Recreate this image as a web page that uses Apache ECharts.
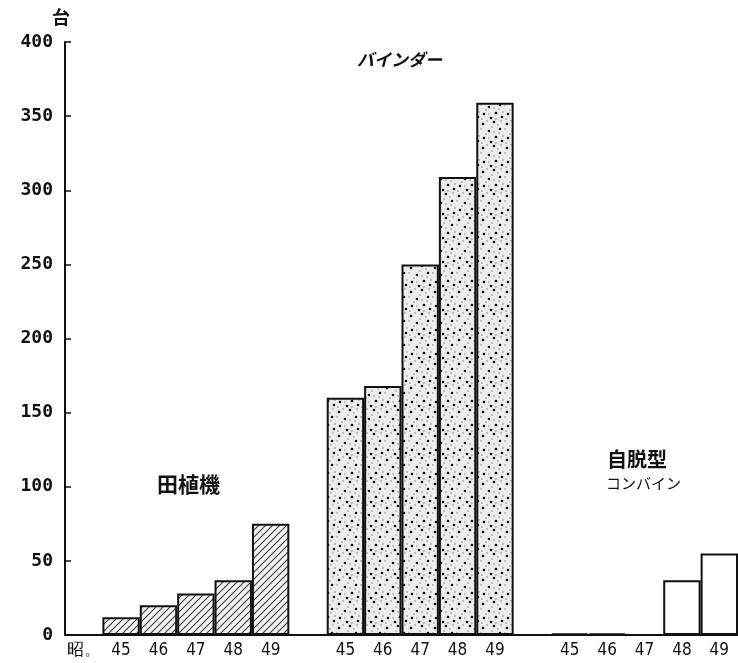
<!DOCTYPE html>
<html><head><meta charset="utf-8">
<script src="https://cdn.jsdelivr.net/npm/echarts@6/dist/echarts.min.js"></script>
<style>html,body{margin:0;padding:0;background:#fff}#c{width:738px;height:663px}</style>
</head><body><div id="c"></div>
<script>
// ---- data ----
const years = ['45', '46', '47', '48', '49'];
const eraPrefix = '昭。';
const unitLabel = '台';
const groupNames = ['田植機', 'バインダー', '自脱型', 'コンバイン'];
const riceTransplanter = [12, 20, 28, 37, 75];
const binder = [160, 168, 250, 309, 359];
const combine = [1, 1, 0, 37, 55];
const yMin = 0, yMax = 400, yStep = 50;

// ---- textures ----
function hatchPattern() {
  const c = document.createElement('canvas');
  c.width = 7; c.height = 7;
  const g = c.getContext('2d');
  g.fillStyle = '#f3f3f3'; g.fillRect(0, 0, 7, 7);
  g.strokeStyle = '#3a3a3a'; g.lineWidth = 1.1;
  g.beginPath();
  g.moveTo(-1, 8); g.lineTo(8, -1);
  g.moveTo(-1, 1); g.lineTo(1, -1);
  g.moveTo(6, 8); g.lineTo(8, 6);
  g.stroke();
  return c;
}
function dotPattern() {
  const c = document.createElement('canvas');
  c.width = 24; c.height = 24;
  const g = c.getContext('2d');
  g.fillStyle = '#ececec'; g.fillRect(0, 0, 24, 24);
  const big = [[3,4],[14,2],[9,11],[20,9],[4,18],[16,17],[11,22],[22,21]];
  const small = [[7,1],[18,5],[1,9],[12,7],[6,14],[19,13],[14,12],[2,23],[9,18],[21,1],[23,16],[16,23]];
  g.fillStyle = '#111';
  big.forEach(p => { g.beginPath(); g.arc(p[0], p[1], 1.3, 0, Math.PI * 2); g.fill(); });
  g.fillStyle = '#777';
  small.forEach(p => { g.beginPath(); g.arc(p[0], p[1], 0.7, 0, Math.PI * 2); g.fill(); });
  return c;
}
const styles = [
  { color: { image: hatchPattern(), repeat: 'repeat' }, borderColor: '#111', borderWidth: 2 },
  { color: { image: dotPattern(), repeat: 'repeat' }, borderColor: '#111', borderWidth: 2 },
  { color: '#ffffff', borderColor: '#111', borderWidth: 2 }
];

// ---- build categories / data ----
const categories = [eraPrefix];
const seriesData = [null];
[riceTransplanter, binder, combine].forEach((vals, gi) => {
  if (gi > 0) { categories.push(''); seriesData.push(null); }
  years.forEach((y, i) => {
    categories.push(y);
    seriesData.push({ value: vals[i], itemStyle: styles[gi] });
  });
});

const chart = echarts.init(document.getElementById('c'), null, { renderer: 'canvas' });
chart.setOption({
  backgroundColor: '#ffffff',
  animation: false,
  grid: { left: 65, right: 0, top: 42, bottom: 28, containLabel: false },
  xAxis: {
    type: 'category',
    data: categories,
    axisLine: { lineStyle: { color: '#111', width: 2 } },
    axisTick: { show: false },
    axisLabel: { interval: 0, margin: 7, fontSize: 17, fontFamily: 'DejaVu Sans Condensed, Liberation Sans Narrow, Liberation Sans, sans-serif', color: '#111' }
  },
  yAxis: {
    type: 'value',
    min: yMin, max: yMax, interval: yStep,
    name: unitLabel,
    nameLocation: 'end',
    nameGap: 16,
    nameTextStyle: { fontSize: 18, fontFamily: 'Noto Sans CJK JP', color: '#111', fontWeight: 'bold', align: 'center', padding: [0, 8, 0, 0] },
    axisLine: { show: true, lineStyle: { color: '#111', width: 2 } },
    axisTick: { show: true, inside: true, length: 6, lineStyle: { color: '#111', width: 1.5 } },
    splitLine: { show: false },
    axisLabel: { margin: 12, fontSize: 18, fontWeight: 'bold', fontFamily: 'DejaVu Sans Mono', color: '#111' }
  },
  series: [{
    type: 'bar',
    data: seriesData,
    barWidth: '100%',
    barCategoryGap: '0%',
    silent: true
  }],
  graphic: [
    { type: 'text', left: 157, top: 474, style: { text: groupNames[0], font: 'bold 21px "Noto Sans CJK JP"', fill: '#111' } },
    { type: 'text', left: 357, top: 51, style: { text: groupNames[1], font: 'italic bold 17px "Noto Sans CJK JP"', fill: '#111' } },
    { type: 'text', left: 607, top: 449, style: { text: groupNames[2], font: 'bold 20px "Noto Sans CJK JP"', fill: '#111' } },
    { type: 'text', left: 606, top: 476, style: { text: groupNames[3], font: '15px "Noto Sans CJK JP"', fill: '#111' } }
  ]
});
</script>
</body></html>
